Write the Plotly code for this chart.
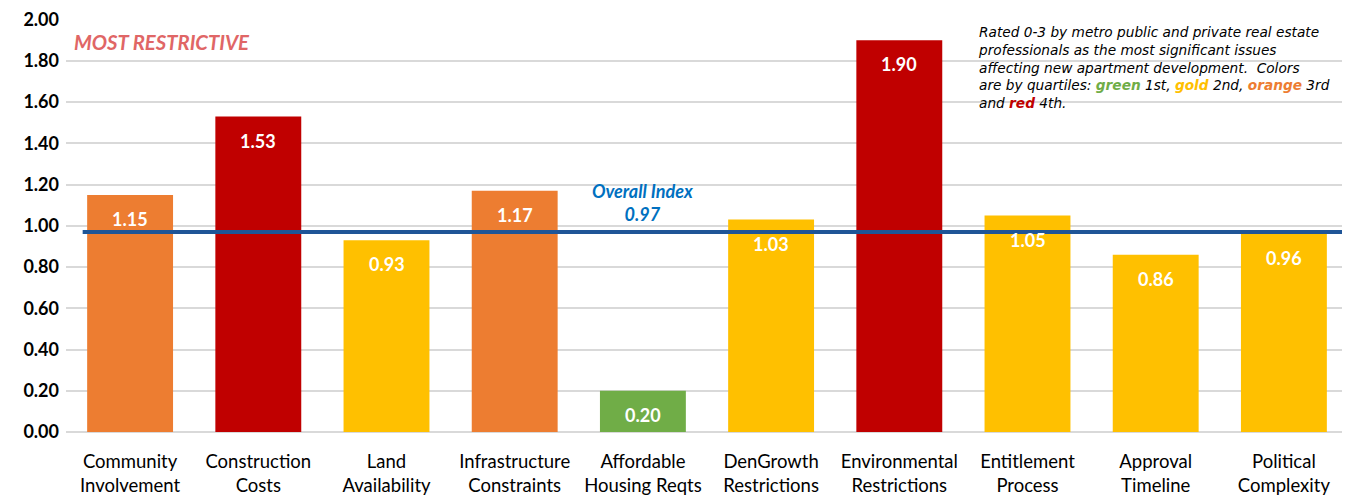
import plotly.graph_objects as go

categories = ["Community<br>Involvement", "Construction<br>Costs", "Land<br>Availability",
              "Infrastructure<br>Constraints", "Affordable<br>Housing Reqts", "DenGrowth<br>Restrictions",
              "Environmental<br>Restrictions", "Entitlement<br>Process", "Approval<br>Timeline",
              "Political<br>Complexity"]
values = [1.15, 1.53, 0.93, 1.17, 0.20, 1.03, 1.90, 1.05, 0.86, 0.96]
quartile = ["orange", "red", "gold", "orange", "green", "gold", "red", "gold", "gold", "gold"]
overall_index = 0.97
tick_vals = [0, 0.2, 0.4, 0.6, 0.8, 1.0, 1.2, 1.4, 1.6, 1.8, 2.0]

palette = {"green": "#70AD47", "gold": "#FFC000", "orange": "#ED7D31", "red": "#C00000"}
FONT = "Lato, 'Open Sans', sans-serif"
NOTE_FONT = "'DejaVu Sans', Lato, sans-serif"

fig = go.Figure()
fig.add_trace(go.Bar(
    x=categories, y=values,
    marker=dict(color=[palette[q] for q in quartile], line=dict(width=0)),
    width=0.67, hoverinfo="x+y",
))

for c, v in zip(categories, values):
    fig.add_annotation(x=c, y=v, text=f"<b>{v:.2f}</b>", showarrow=False,
                       yshift=-24, font=dict(family=FONT, size=18, color="white"))

fig.add_shape(type="line", xref="paper", yref="y", x0=0.013, x1=0.998,
              y0=overall_index, y1=overall_index, line=dict(color="#1F5597", width=4), layer="above")

fig.add_annotation(x=4.0, y=overall_index, yref="y", yshift=30,
                   text=f"<b><i>Overall Index<br>{overall_index:.2f}</i></b>", showarrow=False,
                   font=dict(family=FONT, size=18, color="#0070C0"), align="center")

fig.add_annotation(xref="paper", yref="paper", x=0.005, y=0.945, xanchor="left", yanchor="middle",
                   text="<b><i>MOST RESTRICTIVE</i></b>", showarrow=False,
                   font=dict(family=FONT, size=20.3, color="#E06666"))

note = ("<i>Rated 0-3 by metro public and private real estate<br>"
        "professionals as the most significant issues<br>"
        "affecting new apartment development.  Colors<br>"
        "are by quartiles: <b><span style='color:#70AD47'>green</span></b> 1st, "
        "<b><span style='color:#FFC000'>gold</span></b> 2nd, "
        "<b><span style='color:#ED7D31'>orange</span></b> 3rd<br>"
        "and <b><span style='color:#C00000'>red</span></b> 4th.</i>")
fig.add_annotation(xref="paper", yref="paper", x=0.7097, y=1.0, xanchor="left", yanchor="top",
                   yshift=-3, text=note, showarrow=False, align="left",
                   font=dict(family=NOTE_FONT, size=13.7, color="black"))

fig.update_layout(
    width=1350, height=498,
    margin=dict(l=58, r=10, t=11, b=74),
    plot_bgcolor="white", paper_bgcolor="white",
    showlegend=False,
    font=dict(family=FONT, color="black"),
)
fig.update_xaxes(tickfont=dict(family=FONT, size=18.5, color="black"), showgrid=False,
                 showline=False, ticks="", ticklabelstandoff=16, automargin=False)
fig.update_yaxes(range=[0, 2.003], tickvals=tick_vals, tickformat=".2f",
                 tickfont=dict(family=FONT, size=18, color="black", weight="bold"),
                 showgrid=True, gridcolor="#D9D9D9", gridwidth=1.5,
                 zeroline=True, zerolinecolor="#D9D9D9", zerolinewidth=1.5, ticks="",
                 ticklabelstandoff=6, ticklabeloverflow="allow", automargin=False)

fig.write_html("out.html")
